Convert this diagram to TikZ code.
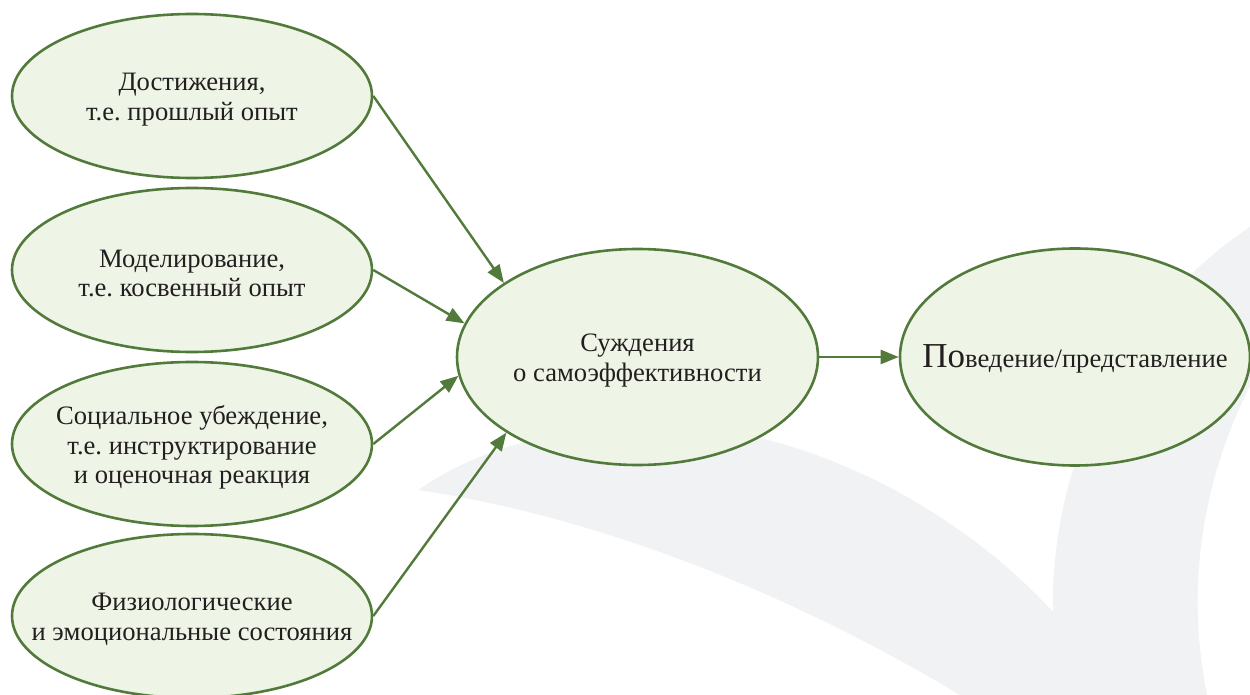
\documentclass[tikz,border=0pt]{standalone}
\usepackage{fontspec}
\setmainfont{Liberation Serif}
\frenchspacing
\usetikzlibrary{shapes.geometric, arrows.meta}
\definecolor{leafline}{HTML}{527A3A}
\definecolor{leaffill}{HTML}{EEF5E6}
\definecolor{swoosh}{HTML}{F1F2F4}
\definecolor{ink}{HTML}{231F20}

\tikzset{
  bubble/.style={ellipse, draw=leafline, fill=leaffill, line width=1.3pt, inner sep=0pt},
  factor/.style={bubble, minimum width=180pt, minimum height=82pt},
  caption/.style={align=center, text=ink, font=\fontsize{13.3}{14.75}\selectfont, inner sep=0pt, yshift=-1.8pt},
  link/.style={draw=leafline, line width=1.2pt, -{Triangle[length=9pt,width=7pt]}},
}

\begin{document}
\begin{tikzpicture}[x=0.5pt, y=-0.5pt]
\useasboundingbox (0,0) rectangle (1250,695);

% watermark swoosh behind the diagram
\begin{scope}
  \clip (0,0) rectangle (1250,695);
  \fill[swoosh]
    (418,490) .. controls (470,455) and (530,432) .. (640,425)
    .. controls (800,420) and (960,510) .. (1053,612)
    .. controls (1050,480) and (1110,320) .. (1250,227)
    -- (1310,190) -- (1310,330) -- (1270,350)
    .. controls (1215,440) and (1180,560) .. (1207,695)
    -- (1207,720) -- (975,720) -- (960,695)
    .. controls (810,605) and (618,520) .. (418,490)
    -- cycle;
\end{scope}

% sources of self-efficacy
\node[factor, label={[caption]center:{Достижения,\\т.е. прошлый опыт}}] (ach) at (192,96) {};
\node[factor, label={[caption]center:{Моделирование,\\т.е. косвенный опыт}}] (mod) at (192,270) {};
\node[factor, label={[caption]center:{Социальное убеждение,\\т.е. инструктирование\\и оценочная реакция}}] (soc) at (192,444) {};
\node[factor, label={[caption]center:{Физиологические\\и эмоциональные состояния}}] (phy) at (192,616) {};

% judgement and outcome
\node[bubble, minimum width=180.5pt, minimum height=108pt,
      label={[caption]center:{Суждения\\о самоэффективности}}] (judg) at (637.5,357) {};
\node[bubble, minimum width=175pt, minimum height=108.5pt,
      label={[caption, yshift=1pt]center:{{\fontsize{17.5}{17.5}\selectfont По}ведение/представление}}] (perf) at (1075,357) {};

% influences
\draw[link] (ach.east) -- (judg.151);
\draw[link] (mod.east) -- (judg.169);
\draw[link] (soc.east) -- (judg.186);
\draw[link] (phy.east) -- (judg.210);
\draw[link] (judg.east) -- (perf.west);
\end{tikzpicture}
\end{document}
